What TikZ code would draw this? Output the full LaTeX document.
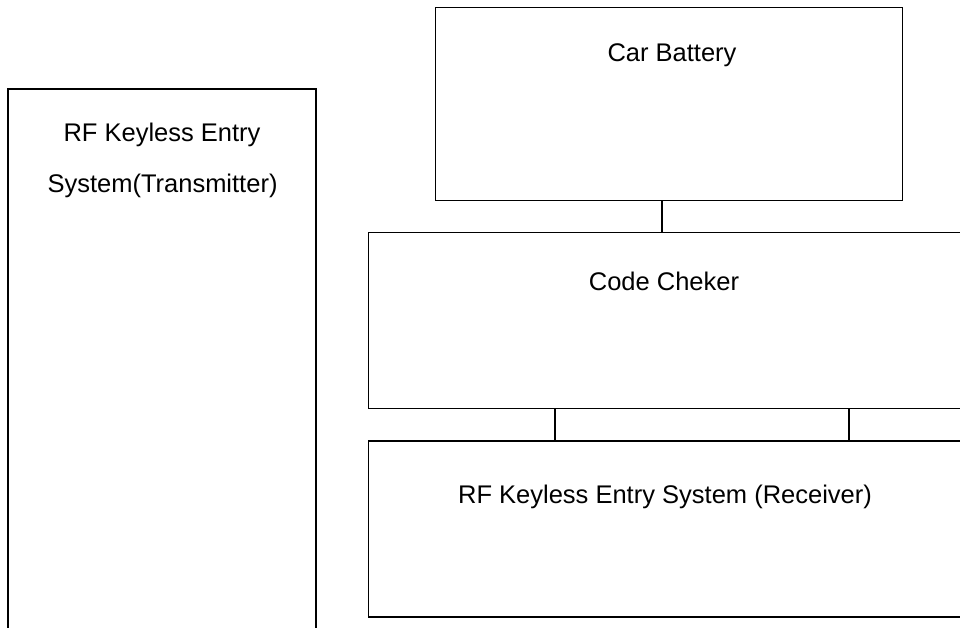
\documentclass[tikz,border=0pt]{standalone}
\usepackage{fontspec}
\setmainfont{Liberation Sans}
\begin{document}
\begin{tikzpicture}[x=1pt,y=-1pt,
  box/.style={draw=black, line width=1.8pt, rectangle, inner sep=0pt, outer sep=0pt, anchor=north west},
  lbl/.style={font=\fontsize{25.5}{30}\selectfont, inner sep=0pt},
  link/.style={draw=black, line width=1.8pt}]
\useasboundingbox (0,0) rectangle (960,627);
\clip (0,0) rectangle (960,627);
\node[box, minimum width=308pt, minimum height=560pt] (tx) at (8,89) {};
\node[box, minimum width=467pt, minimum height=193pt] (bat) at (435.5,7.5) {};
\node[box, minimum width=620pt, minimum height=176pt] (code) at (368.5,232.5) {};
\node[box, minimum width=620pt, minimum height=176pt] (recv) at (368.5,441) {};
\node[lbl] (txa) at (162,135) {RF Keyless Entry};
\node[lbl] (txb) at (162.5,186) {System(Transmitter)};
\node[lbl] (batl) at (672,55) {Car Battery};
\node[lbl] (codel) at (664,281) {Code Cheker};
\node[lbl] (recvl) at (665,497) {RF Keyless Entry System (Receiver)};
\coordinate (c1) at (662,0);
\coordinate (c2) at (555,0);
\coordinate (c3) at (849,0);
\draw[link] (bat.south -| c1) -- (code.north -| c1);
\draw[link] (code.south -| c2) -- (recv.north -| c2);
\draw[link] (code.south -| c3) -- (recv.north -| c3);
\end{tikzpicture}
\end{document}
